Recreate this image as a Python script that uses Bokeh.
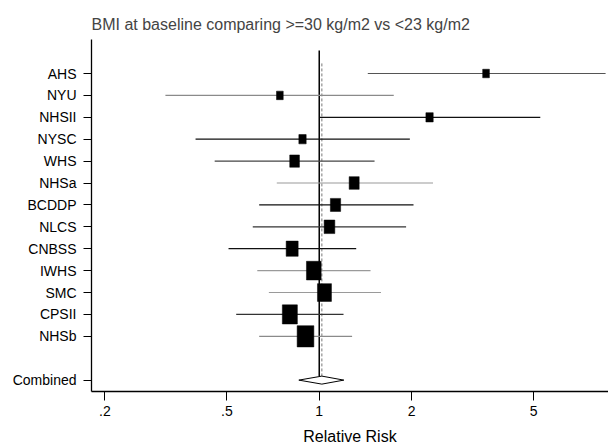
import math
from bokeh.plotting import figure
from bokeh.models import Range1d, FixedTicker, ColumnDataSource
from bokeh.embed import file_html
from bokeh.resources import INLINE

# ---- data ----
studies = ["AHS", "NYU", "NHSII", "NYSC", "WHS", "NHSa", "BCDDP", "NLCS",
           "CNBSS", "IWHS", "SMC", "CPSII", "NHSb"]
rr = [3.50, 0.744, 2.29, 0.882, 0.831, 1.30, 1.13, 1.08, 0.816, 0.960, 1.04, 0.802, 0.902]
lower = [1.44, 0.315, 1.005, 0.395, 0.456, 0.727, 0.637, 0.607, 0.506, 0.628, 0.685, 0.536, 0.637]
upper = [8.59, 1.75, 5.26, 1.975, 1.515, 2.35, 2.03, 1.92, 1.32, 1.47, 1.59, 1.20, 1.28]
weights = [2.7, 2.7, 3.2, 3.2, 5.6, 6.0, 6.3, 6.8, 8.6, 12.9, 11.7, 13.5, 16.7]
combined_label = "Combined"
combined_rr = 1.02
combined_lower = 0.858
combined_upper = 1.203
x_ticks = [0.2, 0.5, 1, 2, 5]
x_tick_labels = [".2", ".5", "1", "2", "5"]
title_text = "BMI at baseline comparing >=30 kg/m2 vs <23 kg/m2"
x_label = "Relative Risk"

# ---- styles ----
line_colors = ["#555555", "#8a8a8a", "#111111", "#111111", "#444444", "#9a9a9a",
               "#111111", "#333333", "#111111", "#9a9a9a", "#9a9a9a", "#333333", "#8a8a8a"]
FONT = "Liberation Sans"

rows = list(range(1, len(studies) + 1))
comb_row = len(studies) + 2

box_w = [4.09 * math.sqrt(w) for w in weights]
box_h = [1.27 * w for w in box_w]

src = ColumnDataSource(dict(y=rows, rr=rr, lo=lower, hi=upper, w=box_w, h=box_h, c=line_colors))

p = figure(width=608, height=447, x_axis_type="log",
           x_range=Range1d(0.1808, 8.78), y_range=Range1d(15.52, -0.553),
           output_backend="svg", toolbar_location=None,
           min_border_left=91, min_border_right=0, min_border_top=39, min_border_bottom=56)
p.title.text = title_text
p.title.text_font = FONT
p.title.text_font_size = "16px"
p.title.text_font_style = "normal"
p.title.align = "left"
p.title.offset = 0
p.title.standoff = 14

p.outline_line_color = None
p.xgrid.visible = False
p.ygrid.visible = False

# reference lines
diamond_half = 4.0 / 21.9
p.segment(x0=[1], x1=[1], y0=[-0.05], y1=[comb_row - diamond_half], line_color="black", line_width=1.5)
p.segment(x0=[combined_rr], x1=[combined_rr], y0=[0.54], y1=[comb_row - diamond_half],
          line_color="#777777", line_width=1, line_dash="3 2")

# CIs
p.segment(x0="lo", x1="hi", y0="y", y1="y", line_color="c", line_width=1.2, source=src)
# boxes
p.rect(x="rr", y="y", width="w", height="h", width_units="screen", height_units="screen",
       fill_color="black", line_color="black", line_width=0.5, source=src)

# combined diamond
p.patch(x=[combined_lower, combined_rr, combined_upper, combined_rr, combined_lower],
        y=[comb_row, comb_row - diamond_half, comb_row, comb_row + diamond_half, comb_row],
        fill_color="white", line_color="black", line_width=1)

# axes
xa = p.xaxis[0]
xa.ticker = FixedTicker(ticks=x_ticks)
xa.major_label_overrides = {t: l for t, l in zip(x_ticks, x_tick_labels)}
xa.minor_tick_line_color = None
xa.major_tick_out = 9
xa.major_tick_in = 0
xa.major_label_standoff = 5
xa.major_label_text_font = FONT
xa.major_label_text_font_size = "14px"
xa.major_label_text_color = "black"
xa.axis_label = x_label
xa.axis_label_text_font = FONT
xa.axis_label_text_font_size = "16px"
xa.axis_label_text_font_style = "normal"
xa.axis_label_text_color = "black"
xa.axis_label_standoff = 9
xa.axis_line_color = "black"
xa.axis_line_width = 1.3
xa.major_tick_line_color = "black"

ya = p.yaxis[0]
ya.ticker = FixedTicker(ticks=rows + [comb_row])
labels = {r: s for r, s in zip(rows, studies)}
labels[comb_row] = combined_label
ya.major_label_overrides = labels
ya.minor_tick_line_color = None
ya.major_tick_out = 8
ya.major_tick_in = 0
ya.major_label_standoff = 7
ya.major_label_text_font = FONT
ya.major_label_text_font_size = "14px"
ya.major_label_text_color = "black"
ya.axis_line_color = "black"
ya.axis_line_width = 1.3
ya.major_tick_line_color = "black"

open("out.html", "w").write(file_html(p, INLINE))
